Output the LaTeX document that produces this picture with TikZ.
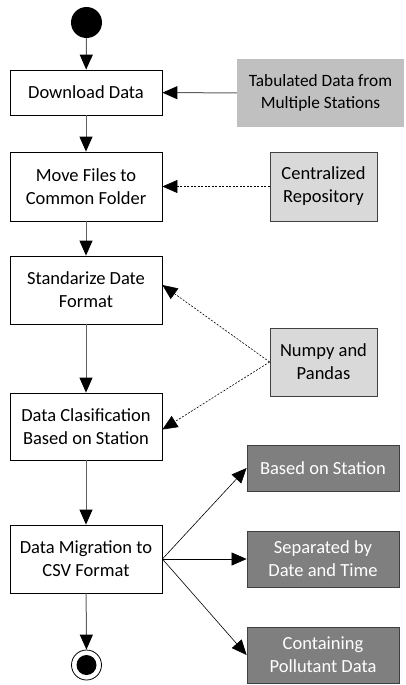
\documentclass[tikz,border=0pt]{standalone}
\usepackage{fontspec}
\setmainfont{Carlito}
\usetikzlibrary{arrows.meta}
\definecolor{flowline}{HTML}{5F5F5F}
\definecolor{srcfill}{HTML}{C0C0C0}
\definecolor{toolfill}{HTML}{D9D9D9}
\definecolor{outfill}{HTML}{7F7F7F}
\definecolor{edgegray}{HTML}{404040}
\begin{document}
\begin{tikzpicture}[x=1pt,y=-1pt,
  txt/.style={align=center,font=\fontsize{18.5}{23}\selectfont,inner sep=0pt},
  act/.style={txt,draw=black,fill=white,line width=0.8pt,minimum width=152},
  src/.style={txt,fill=srcfill,minimum width=167,minimum height=68,font=\fontsize{17.3}{22}\selectfont},
  tool/.style={txt,draw=edgegray,fill=toolfill,line width=0.8pt,minimum width=107,minimum height=69},
  outbox/.style={txt,draw=edgegray,fill=outfill,text=white,line width=0.8pt,minimum width=152},
  tip/.style={-{Triangle[length=15pt,width=13pt,color=black]}},
  flow/.style={tip,draw=flowline,line width=1pt},
  uses/.style={tip,draw=black,line width=0.6pt,dash pattern=on 2pt off 1.5pt},
  fan/.style={tip,draw=black,line width=0.6pt}]
\useasboundingbox (0,0) rectangle (405,685);

% initial and final states
\node[circle,fill=black,minimum size=31,inner sep=0pt] (start) at (86.5,22.5) {};
\node[circle,draw=black,line width=0.8pt,fill=white,minimum size=30,inner sep=0pt] (stop) at (86.5,665) {};
\node[circle,fill=black,minimum size=20,inner sep=0pt] at (stop.center) {};

% activities
\node[act,minimum height=45] (dl)  at (86,92.5) {Download Data};
\node[act,minimum height=69] (mv)  at (86,186.5) {Move Files to\\Common Folder};
\node[act,minimum height=68] (std) at (86,290) {Standarize Date\\Format};
\node[act,minimum height=67] (cls) at (86,426.5) {Data Clasification\\Based on Station};
\node[act,minimum height=68] (mig) at (86,559) {Data Migration to\\CSV Format};

% inputs and tools
\node[src] (tab) at (320.5,93) {Tabulated Data from\\Multiple Stations};
\node[tool] (repo) at (323.5,186.5) {Centralized\\Repository};
\node[tool,minimum height=68] (np) at (323.5,362) {Numpy and\\Pandas};

% outputs
\node[outbox,minimum height=46] (o1) at (323,468) {Based on Station};
\node[outbox,minimum height=56] (o2) at (323,559) {Separated by\\Date and Time};
\node[outbox,minimum height=56] (o3) at (323,655) {Containing\\Pollutant Data};

% main flow
\draw[flow] (start) -- (dl);
\draw[flow] (dl) -- (mv);
\draw[flow] (mv) -- (std);
\draw[flow] (std) -- (cls);
\draw[flow] (cls) -- (mig);
\draw[flow] (mig) -- (stop);

% data sources and tools
\draw[flow] (tab) -- (dl);
\draw[uses] (repo) -- (mv);
\draw[uses] (np.west) -- ([yshift=5]std.east);
\draw[uses] (np.west) -- ([yshift=-3]cls.east);

% generated outputs
\draw[fan] (mig.east) -- (o1.west);
\draw[fan] (mig.east) -- (o2.west);
\draw[fan] (mig.east) -- (o3.west);
\end{tikzpicture}
\end{document}
